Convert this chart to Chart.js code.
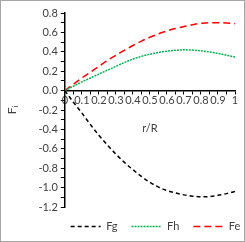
<!DOCTYPE html>
<html>
<head>
<meta charset="utf-8">
<script src="https://cdn.jsdelivr.net/npm/chart.js@4"></script>
<style>
  html, body { margin: 0; padding: 0; background: #fff; }
  #wrap { width: 245px; height: 242px; position: relative; }
</style>
</head>
<body>
<div id="wrap"><canvas id="chart"></canvas></div>
<script>
const rValues = [0, 0.05, 0.1, 0.15, 0.2, 0.25, 0.3, 0.35, 0.4, 0.45, 0.5, 0.55, 0.6, 0.65, 0.7, 0.75, 0.8, 0.85, 0.9, 0.95, 1];
const fg = [0, -0.12, -0.23, -0.35, -0.46, -0.56, -0.655, -0.74, -0.815, -0.885, -0.945, -0.995, -1.03, -1.055, -1.075, -1.088, -1.095, -1.092, -1.08, -1.062, -1.04];
const fh = [0, 0.045, 0.09, 0.13, 0.17, 0.21, 0.25, 0.29, 0.325, 0.353, 0.375, 0.393, 0.407, 0.416, 0.42, 0.418, 0.41, 0.398, 0.383, 0.365, 0.345];
const fe = [0, 0.065, 0.13, 0.19, 0.25, 0.31, 0.365, 0.415, 0.465, 0.51, 0.55, 0.585, 0.615, 0.64, 0.66, 0.68, 0.693, 0.7, 0.7, 0.697, 0.69];
const seriesNames = ["Fg", "Fh", "Fe"];
const xTitle = "r/R";

function points(vals) {
  return rValues.map((r, i) => ({ x: r, y: vals[i] }));
}

// border round the chart, r/R caption under the x labels,
// and nudge the legend so it sits under the plot like the original
const extras = {
  id: "extras",
  afterLayout(chart) {
    chart.legend.left += 38;
    chart.legend.right += 38;
  },
  afterDraw(chart) {
    const c = chart.ctx;
    const { chartArea, scales } = chart;
    c.save();
    c.strokeStyle = "#a6a6a6";
    c.lineWidth = 1;
    c.strokeRect(0.5, 0.5, chart.width - 1, chart.height - 1);
    c.fillStyle = "#404040";
    c.font = "11px Lato";
    c.textAlign = "center";
    c.textBaseline = "middle";
    c.fillText(xTitle, (chartArea.left + chartArea.right) / 2, scales.y.getPixelForValue(0) + 38);
    c.restore();
  },
};

const ctx = document.getElementById("chart").getContext("2d");
new Chart(ctx, {
  type: "line",
  data: {
    datasets: [
      { label: seriesNames[0], data: points(fg), borderColor: "#000000", borderDash: [4, 3] },
      { label: seriesNames[1], data: points(fh), borderColor: "#00b050", borderDash: [2, 1] },
      { label: seriesNames[2], data: points(fe), borderColor: "#ff0000", borderDash: [7, 4] },
    ],
  },
  options: {
    responsive: true,
    maintainAspectRatio: false,
    animation: false,
    layout: { padding: { top: 13, right: 10, left: 0, bottom: 0 } },
    elements: {
      point: { radius: 0 },
      line: { borderWidth: 1.5, cubicInterpolationMode: "monotone", fill: false, backgroundColor: "transparent" },
    },
    plugins: {
      tooltip: { enabled: false },
      legend: {
        position: "bottom",
        labels: {
          usePointStyle: true,
          pointStyle: "line",
          pointStyleWidth: 30,
          color: "#404040",
          font: { family: "Lato", size: 11 },
          padding: 14,
          generateLabels(chart) {
            const items = Chart.defaults.plugins.legend.labels.generateLabels(chart);
            items.forEach((it, i) => {
              it.lineDash = chart.data.datasets[i].borderDash;
              it.lineWidth = 1.5;
              it.strokeStyle = chart.data.datasets[i].borderColor;
              it.pointStyle = "line";
            });
            return items;
          },
        },
      },
    },
    scales: {
      x: {
        type: "linear",
        position: { y: 0 },
        min: 0,
        max: 1,
        afterFit(s) { s.height = 2; },
        border: { color: "#000", width: 1.5 },
        grid: { drawOnChartArea: false, tickLength: 3, color: "#000" },
        ticks: {
          stepSize: 0.05,
          autoSkip: false,
          maxRotation: 0,
          padding: 0,
          color: "#404040",
          font: { family: "Lato", size: 11 },
          callback: (v, i) => (i % 2 === 0 ? String(Math.round(v * 10) / 10) : ""),
        },
      },
      y: {
        min: -1.2,
        max: 0.8,
        border: { color: "#000", width: 1.5 },
        grid: { drawOnChartArea: false, tickLength: 4, color: "#000" },
        ticks: {
          stepSize: 0.1,
          autoSkip: false,
          padding: 3,
          color: "#404040",
          font: { family: "Lato", size: 11 },
          callback: (v, i) => (i % 2 === 0 ? v.toFixed(1) : ""),
        },
        title: { display: true, text: "Fᵢ", color: "#404040", font: { family: "Lato", size: 12 }, padding: { top: 5, bottom: 16 } },
      },
    },
  },
  plugins: [extras],
});
</script>
</body>
</html>
